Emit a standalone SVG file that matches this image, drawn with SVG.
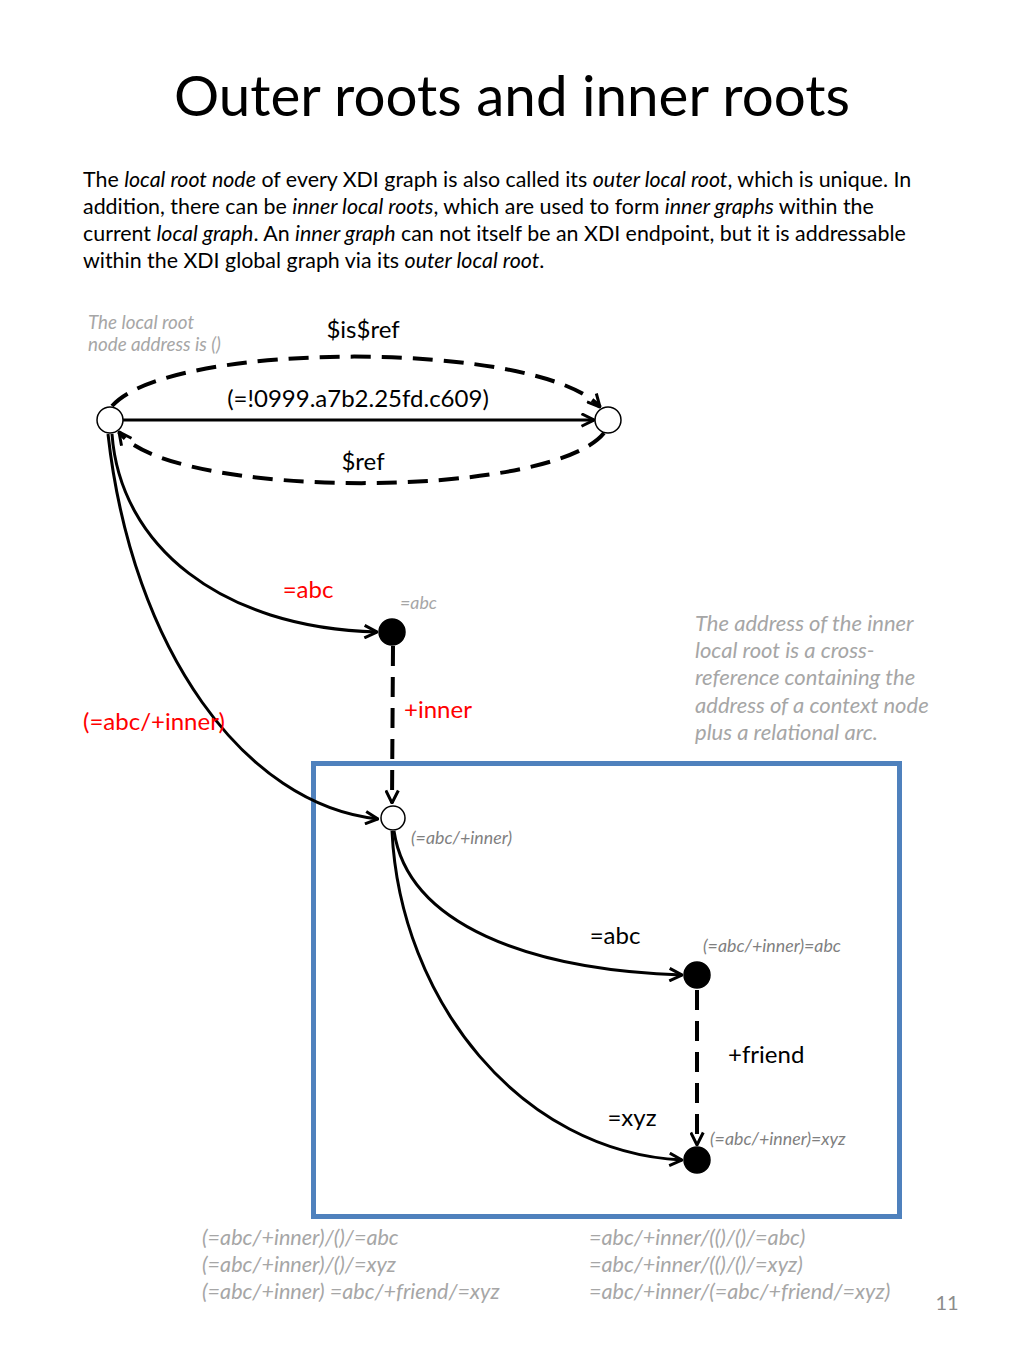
<svg xmlns="http://www.w3.org/2000/svg" width="1024" height="1365" viewBox="0 0 1024 1365">
<style>
text{font-family:Lato,"Open Sans","Liberation Sans",sans-serif}
.title{font-size:56.5px;fill:#000}
.para{font-size:21.4px;fill:#000}
.lbl{font-size:24px;fill:#000}
.red{font-size:24px;fill:#FF0000}
.note{font-size:18.8px;fill:#A6A6A6;font-style:italic}
.note2{font-size:22px;fill:#A6A6A6;font-style:italic}
.nodelbl{font-size:17.8px;fill:#7F7F7F;font-style:italic}
.bot{font-size:21.6px;fill:#A6A6A6;font-style:italic}
.edge{fill:none;stroke:#000;stroke-width:3}
.dash{fill:none;stroke:#000;stroke-width:4;stroke-dasharray:20 11}
.open{fill:#fff;stroke:#000;stroke-width:1.5}
.full{fill:#000;stroke:#000;stroke-width:1.5}
</style>
<defs>
<marker id="arr" viewBox="0 0 12 12" refX="11" refY="6" markerWidth="15" markerHeight="15" markerUnits="userSpaceOnUse" orient="auto">
<path d="M1,1 L11,6 L1,11" fill="none" stroke="#000" stroke-width="2.4"/>
</marker>
</defs>
<rect width="1024" height="1365" fill="#fff"/>
<text class="title" x="512" y="116" text-anchor="middle">Outer roots and inner roots</text>
<g id="intro">
<text class="para" x="83" y="187">The <tspan font-style="italic">local root node</tspan> of every XDI graph is also called its <tspan font-style="italic">outer local root</tspan>, which is unique. In</text>
<text class="para" x="83" y="214">addition, there can be <tspan font-style="italic">inner local roots</tspan>, which are used to form <tspan font-style="italic">inner graphs</tspan> within the</text>
<text class="para" x="83" y="241">current <tspan font-style="italic">local graph</tspan>. An <tspan font-style="italic">inner graph</tspan> can not itself be an XDI endpoint, but it is addressable</text>
<text class="para" x="83" y="268">within the XDI global graph via its <tspan font-style="italic">outer local root</tspan>.</text>
</g>
<g id="inner-graph-box">
<rect x="313.5" y="763.5" width="586" height="453" fill="none" stroke="#4F81BD" stroke-width="5"/>
</g>
<g id="connectors">
<path class="edge" d="M123,420 L594,420" marker-end="url(#arr)"/>
<path class="dash" d="M112,406 C170,340 540,340 600,407" marker-end="url(#arr)"/>
<path class="dash" d="M604,433 C550,500 170,500 119,432" marker-end="url(#arr)"/>
<path class="edge" d="M112,434 C120,545 220,628 377,632" marker-end="url(#arr)"/>
<path class="edge" d="M108,434 C132,650 245,805 378,819" marker-end="url(#arr)"/>
<path class="dash" d="M393,646 L392,803" marker-end="url(#arr)"/>
<path class="edge" d="M394,831 C408,925 530,970 682,975" marker-end="url(#arr)"/>
<path class="edge" d="M392,831 C400,1000 520,1152 682,1160" marker-end="url(#arr)"/>
<path class="dash" d="M697,990 L697,1145" marker-end="url(#arr)"/>
</g>
<g id="edge-labels">
<text class="lbl" x="363" y="338" text-anchor="middle">$is$ref</text>
<text class="lbl" x="358" y="407" text-anchor="middle">(=!0999.a7b2.25fd.c609)</text>
<text class="lbl" x="363" y="470" text-anchor="middle">$ref</text>
<text class="red" x="308" y="598" text-anchor="middle">=abc</text>
<text class="red" x="404" y="718">+inner</text>
<text class="red" x="83" y="730">(=abc/+inner)</text>
<text class="lbl" x="615" y="944" text-anchor="middle">=abc</text>
<text class="lbl" x="728" y="1063">+friend</text>
<text class="lbl" x="632" y="1126" text-anchor="middle">=xyz</text>
</g>
<g id="node-outer-root">
<circle class="open" cx="110" cy="420" r="13"/>
<text class="note" x="88" y="329">The local root</text>
<text class="note" x="88" y="351">node address is ()</text>
</g>
<g id="node-target">
<circle class="open" cx="608" cy="420" r="13"/>
</g>
<g id="node-abc">
<circle class="full" cx="392" cy="632" r="13"/>
<text class="nodelbl" x="400" y="609" style="fill:#A6A6A6">=abc</text>
</g>
<g id="node-inner-root">
<circle class="open" cx="393" cy="818" r="12"/>
<text class="nodelbl" x="411" y="844">(=abc/+inner)</text>
</g>
<g id="node-inner-abc">
<circle class="full" cx="697" cy="975" r="13"/>
<text class="nodelbl" x="703" y="952">(=abc/+inner)=abc</text>
</g>
<g id="node-inner-xyz">
<circle class="full" cx="697" cy="1160" r="13"/>
<text class="nodelbl" x="710" y="1145">(=abc/+inner)=xyz</text>
</g>
<g id="annotation">
<text class="note2" x="695" y="631">The address of the inner</text>
<text class="note2" x="695" y="658">local root is a cross-</text>
<text class="note2" x="695" y="685">reference containing the</text>
<text class="note2" x="695" y="713">address of a context node</text>
<text class="note2" x="695" y="740">plus a relational arc.</text>
</g>
<g id="addresses">
<text class="bot" x="202" y="1245">(=abc/+inner)/()/=abc</text>
<text class="bot" x="202" y="1272">(=abc/+inner)/()/=xyz</text>
<text class="bot" x="202" y="1299">(=abc/+inner) =abc/+friend/=xyz</text>
<text class="bot" x="589" y="1245">=abc/+inner/(()/()/=abc)</text>
<text class="bot" x="589" y="1272">=abc/+inner/(()/()/=xyz)</text>
<text class="bot" x="589" y="1299">=abc/+inner/(=abc/+friend/=xyz)</text>
</g>
<text x="947" y="1310" text-anchor="middle" style="font-size:20px;fill:#8C8C8C">11</text>
</svg>
